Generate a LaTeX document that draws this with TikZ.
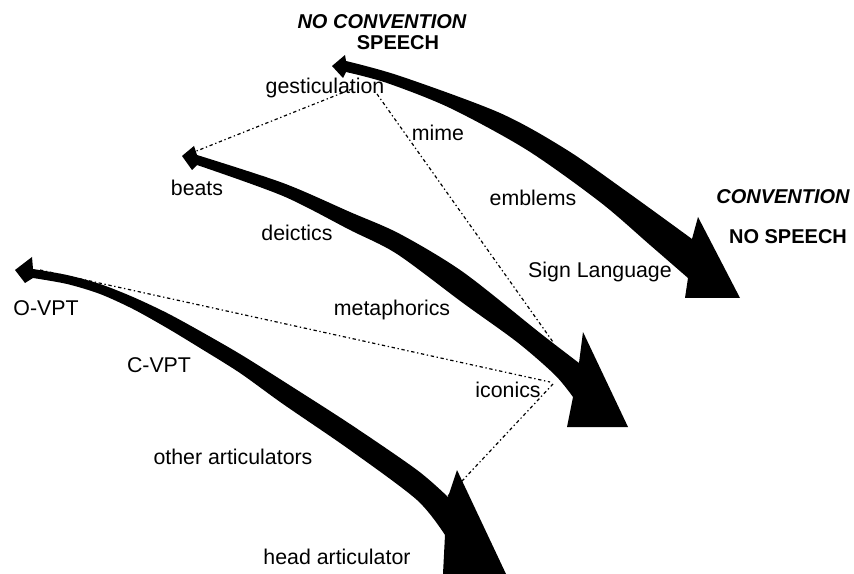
\documentclass[tikz,border=0pt]{standalone}
\usepackage{fontspec}
\setmainfont{Liberation Sans}
\usepackage{tikz}
\tikzstyle{lbl} = [font=\fontsize{16}{18}\selectfont, inner sep=0pt]
\tikzstyle{hdr} = [font=\fontsize{15}{17}\selectfont\bfseries, inner sep=0pt]
\tikzstyle{band} = [fill=black]
\tikzstyle{dots} = [line width=0.9pt, dash pattern=on 2.5pt off 2pt on 1pt off 2pt]

\begin{document}
\begin{tikzpicture}[x=0.75pt,y=-0.75pt]
  \useasboundingbox (0,0) rectangle (854,574);

  \fill[band] (332,66) -- (345,55) -- plot[smooth] coordinates {(346,61) (400,76) (500,113) (567,150) (630,194) (692,239)}
    -- (698,217) -- (740,298) -- (685,298)
    -- plot[smooth] coordinates {(688,278) (650,245) (600,202) (527,150) (450,108) (387,83) (346,72)} -- (343,78) -- cycle;
  \fill[band] (182,156) -- (194,146) -- plot[smooth] coordinates {(197,155) (283,183) (350,212) (400,234) (463,272) (540,333) (579,363)}
    -- (583,332) -- (628,427) -- (567,427)
    -- plot[smooth] coordinates {(573,397) (555,375) (517,342) (463,303) (397,254) (350,230) (283,196) (197,165)} -- (192,170) -- cycle;
  \fill[band] (15,270) -- (32,257) -- plot[smooth] coordinates {(33,269) (67,275) (100,284) (133,297) (167,313) (200,331) (240,354) (283,381) (350,424) (417,470) (448,497)}
    -- (457,470) -- (506,574) -- (443,574)
    -- plot[smooth] coordinates {(445,535) (417,500) (350,450) (283,404) (240,373) (200,348) (167,328) (133,309) (100,294) (67,284) (33,278)} -- (25,283) -- cycle;

  \node (a) at (382,22) [hdr] {\itshape NO CONVENTION};
  \node (b) at (398,43) [hdr] {SPEECH};
  \node (c) at (783,197) [hdr] {\itshape CONVENTION};
  \node (d) at (788,237) [hdr] {NO SPEECH};
  \node (e) at (325,88) [lbl] {gesticulation};
  \node (f) at (438,133) [lbl] {mime};
  \node (g) at (533,198) [lbl] {emblems};
  \node (h) at (600,272) [lbl] {Sign Language};
  \node (i) at (197,188) [lbl] {beats};
  \node (j) at (297,233) [lbl] {deictics};
  \node (k) at (392,310) [lbl] {metaphorics};
  \node (l) at (508,390) [lbl] {iconics};
  \node (m) at (46,308) [lbl] {O-VPT};
  \node (n) at (159,365) [lbl] {C-VPT};
  \node (o) at (233,457) [lbl] {other articulators};
  \node (p) at (337,557) [lbl] {head articulator};

  \coordinate (ga) at (352,89);
  \coordinate (gb) at (377,94);
  \coordinate (bt) at (194,152);
  \coordinate (ia) at (553,342);
  \coordinate (ov) at (40,270);
  \coordinate (ib) at (550,382);
  \coordinate (ic) at (553,384);
  \coordinate (hd) at (448,496);
  \draw [dots] (ga) -- (bt);
  \draw [dots] (gb) -- (ia);
  \draw [dots] (ov) -- (ib);
  \draw [dots] (ic) -- (hd);
\end{tikzpicture}
\end{document}
